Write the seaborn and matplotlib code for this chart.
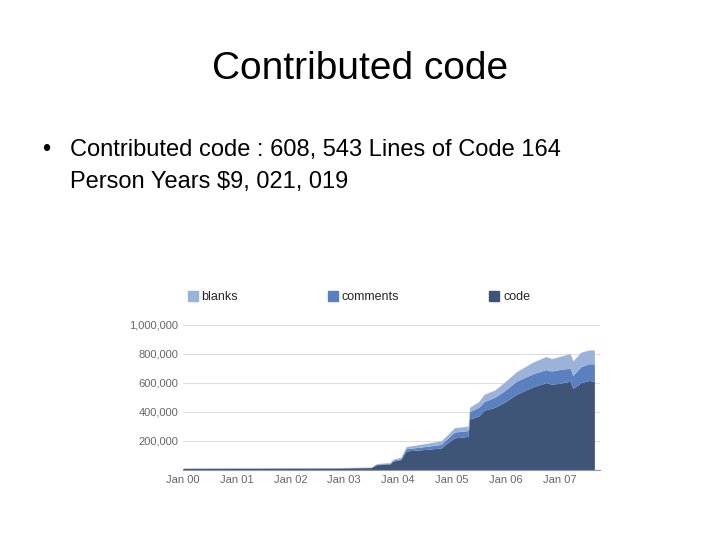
import matplotlib
matplotlib.use("Agg")
import matplotlib.pyplot as plt
import seaborn as sns
from matplotlib.patches import Patch

# decimal years since 2000
years = [2000.0, 2002.8, 2003.5, 2003.6, 2003.85, 2003.9, 2004.05, 2004.15, 2004.5, 2004.8,
         2004.9, 2005.05, 2005.3, 2005.33, 2005.5, 2005.6, 2005.8, 2006.0, 2006.2, 2006.5,
         2006.75, 2006.85, 2007.0, 2007.2, 2007.25, 2007.4, 2007.55, 2007.65]
code = [10000, 12000, 15000, 35000, 40000, 60000, 70000, 130000, 140000, 150000,
        180000, 220000, 230000, 350000, 370000, 410000, 430000, 470000, 520000, 570000,
        600000, 590000, 595000, 610000, 560000, 600000, 615000, 610000]
comments = [1000, 1500, 2000, 4000, 5000, 6000, 8000, 15000, 20000, 25000,
            30000, 40000, 40000, 50000, 60000, 60000, 70000, 80000, 90000, 90000,
            90000, 90000, 95000, 90000, 90000, 110000, 115000, 120000]
blanks = [1000, 1500, 2000, 4000, 5000, 6000, 8000, 15000, 20000, 25000,
          25000, 30000, 30000, 30000, 40000, 50000, 50000, 60000, 65000, 80000,
          90000, 85000, 90000, 100000, 100000, 100000, 95000, 95000]
colors = ["#3f5578", "#5b80c0", "#9bb3d9"]
tick_years = list(range(2000, 2008))
tick_labels = ["Jan 00", "Jan 01", "Jan 02", "Jan 03", "Jan 04", "Jan 05", "Jan 06", "Jan 07"]

sns.set_style("white")
plt.rcParams["font.family"] = ["Liberation Sans", "DejaVu Sans"]

fig = plt.figure(figsize=(7.2, 5.4), dpi=100)
fig.text(0.5, 0.873, "Contributed code", ha="center", va="center", fontsize=28, color="black")
fig.text(0.058, 0.723, "•", fontsize=17, va="center", color="black")
fig.text(0.097, 0.723, "Contributed code : 608, 543 Lines of Code 164", fontsize=17, va="center", color="black")
fig.text(0.097, 0.663, "Person Years $9, 021, 019", fontsize=17, va="center", color="black")

ax = fig.add_axes([0.254, 0.13, 0.579, 0.269])
ax.stackplot(years, code, comments, blanks, colors=colors, linewidth=0)
ax.set_xlim(2000, 2007.75)
ax.set_ylim(0, 1000000)
ax.set_yticks([200000, 400000, 600000, 800000, 1000000])
ax.set_yticklabels(["200,000", "400,000", "600,000", "800,000", "1,000,000"])
ax.set_xticks(tick_years)
ax.set_xticklabels(tick_labels)
ax.tick_params(labelsize=8, colors="#666666", length=0)
ax.yaxis.grid(True, color="#dddddd", linewidth=0.8)
ax.set_axisbelow(True)
for side in ["top", "right", "left"]:
    ax.spines[side].set_visible(False)
ax.spines["bottom"].set_color("#999999")

handles = [Patch(color=colors[2], label="blanks"), Patch(color=colors[1], label="comments"),
           Patch(color=colors[0], label="code")]
fig.legend(handles=handles, ncol=3, loc="center left", bbox_to_anchor=(0.245, 0.45),
           frameon=False, fontsize=9, handlelength=0.8, handleheight=0.8,
           handletextpad=0.3, columnspacing=7.2)

fig.savefig("out.png", dpi=100)
